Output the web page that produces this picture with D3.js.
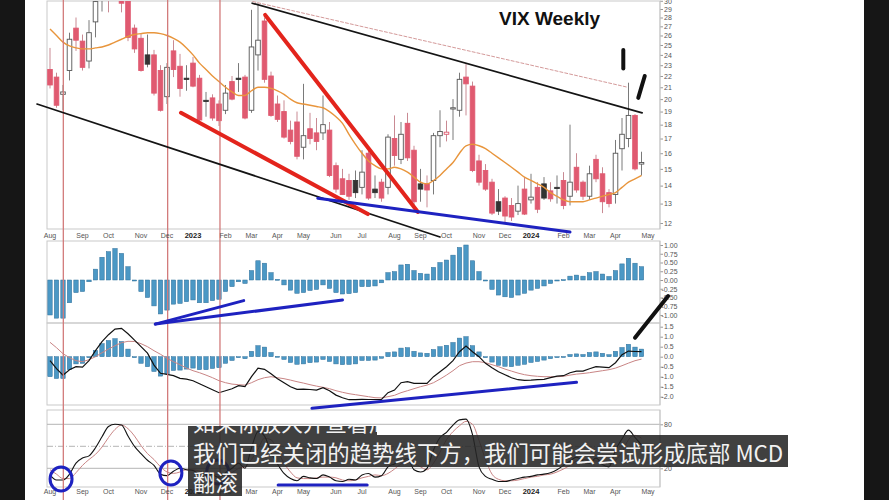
<!DOCTYPE html>
<html><head><meta charset="utf-8">
<script src="https://cdn.jsdelivr.net/npm/d3@7"></script>
<style>body{margin:0;background:#fff;}svg{display:block;}</style>
</head><body>
<svg id="c" width="889" height="500"></svg>
<script>
// ---------------- DATA ----------------
const priorClose = 21.3;
const opens = [22.6,21.9,20.4,22.5,26.8,25.4,23.4,27.5,30.5,30.4, 32.4,32.5,30.6,26.8,25.7,24.0,24.0,22.5,20.2,24.4, 22.9,21.8,23.2,21.8,19.9,20.1,19.6,19.1,21.5,21.8, 21.9,19.1,24.0,27.6,22.0,19.6,19.0,17.6,18.2,16.4, 17.7,17.4,17.4,17.6,15.2,14.4,14.3,14.3,13.9,16.0, 13.8,14.2,13.9,17.0,15.6,18.1,16.2,14.1,14.1,14.3, 17.2,17.3,19.2,19.1,21.9,21.1,15.5,14.9,14.2,13.1, 13.3,12.9,12.6,13.8,13.2,13.9,14.1,13.7,13.9,14.3, 13.4,15.1,14.2,13.4,15.6,14.7,13.6,13.5,16.3,17.0, 18.7,15.3];
const highs = [24.7,22.3,21.2,26.3,28.0,26.1,27.7,30.4,34.9,33.6, 34.0,33.0,31.5,27.2,26.2,26.1,24.5,23.0,23.2,25.5, 24.1,23.0,23.8,22.1,20.6,20.4,19.9,21.2,22.0,23.2, 22.1,28.9,29.7,28.0,22.4,20.3,19.9,18.3,19.0,21.3, 18.9,18.5,20.3,18.2,15.4,15.0,14.7,14.9,16.2,16.3, 14.6,14.4,17.3,18.7,18.2,18.9,16.5,15.0,14.6,17.4, 19.1,18.3,20.0,22.3,23.1,21.5,15.9,15.3,14.4,13.8, 13.4,13.3,14.0,14.5,14.7,14.2,14.5,14.2,14.6,14.8, 18.0,16.0,14.3,15.2,15.9,15.1,13.8,16.9,18.5,21.4, 18.8,16.1];
const lows = [20.9,19.3,19.1,21.6,24.4,22.5,22.7,25.8,28.7,28.6, 30.2,28.6,25.4,24.2,22.4,22.8,20.3,19.0,19.6,21.9, 20.2,20.7,21.0,18.0,18.6,18.3,17.9,18.8,19.9,20.6, 18.4,18.9,22.5,21.4,18.6,18.2,17.0,16.6,15.6,15.6, 16.6,16.2,16.9,14.5,13.6,13.5,13.2,13.3,13.5,13.2, 13.3,13.1,13.5,15.2,15.3,15.5,12.9,13.1,12.8,13.5, 16.4,16.8,16.9,18.6,18.7,14.8,14.0,13.7,12.4,12.4, 12.0,12.1,12.4,12.4,13.0,12.5,13.2,13.1,13.0,12.7, 12.9,13.6,13.2,13.2,14.2,12.5,12.8,13.0,14.9,16.4, 14.9,14.6];
const closes = [21.2,19.5,20.6,25.6,25.5,22.8,26.3,29.9,31.6,31.4, 32.0,29.7,25.8,24.6,22.5,23.1,20.5,19.1,22.8,22.6, 20.9,21.7,21.1,18.35,19.85,18.5,18.3,20.5,20.0,21.7, 18.5,24.8,25.5,21.7,18.7,18.4,17.1,16.8,15.8,17.2, 17.0,16.8,18.0,14.6,13.8,13.5,13.4,13.6,14.8,13.3, 13.6,13.3,17.1,15.85,17.3,15.7,13.1,13.8,13.75,17.2, 17.5,17.45,19.3,21.7,21.3,14.9,14.2,13.8,12.5,12.6, 12.35,12.3,13.0,12.45,13.35,12.7,13.3,13.26,13.85,12.9, 14.2,13.75,13.4,14.7,14.4,13.1,13.0,16.0,17.3,18.7, 15.0,15.4];
const movingAvg = [26.7,26.0,25.3,24.9,24.7,24.6,24.6,24.7,24.8,25.0, 25.3,25.6,25.9,26.1,26.2,26.3,26.3,26.2,26.0,25.7, 25.3,24.7,24.0,23.2,22.6,22.0,21.5,21.0,20.6,20.3, 20.3,20.7,21.0,21.0,20.9,20.7,20.4,20.0,19.7,19.6, 19.5,19.4,19.3,19.0,18.6,18.1,17.3,16.6,16.0,15.5, 15.2,15.0,15.0,15.1,15.0,14.8,14.5,14.2,14.1,14.3, 14.6,15.0,15.4,16.0,16.5,16.6,16.5,16.3,16.0,15.7, 15.4,15.1,14.8,14.5,14.3,14.1,13.9,13.6,13.4,13.2, 13.1,13.1,13.1,13.2,13.3,13.4,13.5,13.6,13.9,14.2, 14.4,14.6];
const histogram = [-1.0,-1.09,-1.09,-0.65,-0.36,-0.33,-0.05,0.31,0.65,0.81, 0.90,0.76,0.38,0.0,-0.33,-0.5,-0.74,-0.97,-0.86,-0.69, -0.67,-0.62,-0.57,-0.65,-0.65,-0.59,-0.55,-0.33,-0.19,-0.05, -0.1,0.27,0.55,0.48,0.21,0.02,-0.14,-0.29,-0.38,-0.36, -0.3,-0.27,-0.14,-0.24,-0.36,-0.40,-0.39,-0.36,-0.19,-0.19, -0.17,-0.08,0.21,0.24,0.43,0.45,0.27,0.19,0.17,0.36, 0.50,0.57,0.71,0.93,1.0,0.55,0.24,0.0,-0.27,-0.43, -0.48,-0.5,-0.43,-0.38,-0.29,-0.24,-0.17,-0.1,-0.02,0.01, 0.11,0.14,0.11,0.21,0.24,0.17,0.1,0.27,0.46,0.62, 0.48,0.38];
const macdLine = [-0.2,-0.6,-0.92,-0.65,-0.5,-0.52,-0.2,0.3,0.75,1.1, 1.38,1.42,1.15,0.83,0.5,0.18,-0.42,-0.83,-0.88,-0.95, -1.08,-1.12,-1.2,-1.35,-1.5,-1.65,-1.8,-1.7,-1.6,-1.45, -1.5,-1.0,-0.57,-0.63,-0.85,-1.1,-1.3,-1.5,-1.63,-1.62, -1.64,-1.67,-1.55,-1.7,-1.92,-2.05,-2.15,-2.15,-2.13,-2.14, -2.14,-2.13,-1.8,-1.67,-1.3,-1.25,-1.33,-1.33,-1.33,-1.0, -0.75,-0.5,-0.2,0.25,0.53,0.25,0.0,-0.33,-0.55,-0.75, -0.9,-1.05,-1.15,-1.18,-1.17,-1.15,-1.13,-1.05,-0.97,-0.95, -0.8,-0.72,-0.72,-0.6,-0.5,-0.52,-0.55,-0.3,0.1,0.28, 0.26,0.25];
const signalLine = [0.72,0.45,0.15,-0.05,-0.2,-0.25,-0.15,0.0,0.2,0.38, 0.55,0.7,0.77,0.76,0.65,0.5,0.3,0.12,-0.08,-0.25, -0.4,-0.57,-0.7,-0.8,-0.92,-1.05,-1.2,-1.3,-1.37,-1.4, -1.42,-1.3,-1.15,-1.05,-1.0,-1.05,-1.1,-1.17,-1.25,-1.32, -1.4,-1.47,-1.53,-1.6,-1.7,-1.78,-1.85,-1.9,-1.95,-2.0, -2.05,-2.06,-2.0,-1.93,-1.8,-1.7,-1.6,-1.5,-1.42,-1.3, -1.12,-0.92,-0.7,-0.45,-0.32,-0.25,-0.25,-0.3,-0.4,-0.5, -0.62,-0.72,-0.82,-0.9,-0.95,-0.98,-1.0,-1.0,-1.0,-0.98, -0.92,-0.87,-0.84,-0.8,-0.75,-0.7,-0.65,-0.57,-0.45,-0.32, -0.2,-0.12];
const stochK = [11,4,4,12,27,34,37,48,63,77, 80,79,64,50,40,31,24,12,10,16, 20,18,17,12,13,11,8,14,20,27, 20,48,70,64,42,26,13,6,3,9, 7,6,11,8,3,2,5,4,11,13, 8,10,22,26,31,33,18,15,20,45, 62,69,79,86,87,66,22,9,5,2, 2,4,6,8,9,11,12,14,18,24, 30,35,30,27,34,25,22,45,60,72, 62,52];
const stochD = [18,12,6,6,14,24,32,39,49,62, 73,79,74,64,51,40,32,22,15,13, 15,18,18,16,14,12,11,11,14,20, 22,32,46,61,59,44,27,15,7,6, 6,7,8,8,7,4,3,4,7,9, 11,10,13,19,26,30,27,22,18,27, 42,59,70,78,84,80,58,32,12,5, 3,3,4,6,8,9,11,12,15,19, 24,30,32,31,30,29,27,31,42,59, 65,61];

const monthLabels = ["Aug","Sep","Oct","Nov","Dec","2023","Feb","Mar","Apr","May","Jun","Jul","Aug","Sep","Oct","Nov","Dec","2024","Feb","Mar","Apr","May"];
const priceTicks = [12,13,14,15,16,17,18,19,20,21,22,23,24,25,26,27,28,29,30];
const histTicks = [1.00,0.75,0.50,0.25,0.00,-0.25,-0.50,-0.75,-1.00];
const macdTicks = [1.5,1.0,0.5,0.0,-0.5,-1.0,-1.5,-2.0];
const stochTicks = [80,20];

// cycle lines (week index) and hand-drawn annotations in data units
const cycleWeeks = [2.05, 18.1, 26.15];
const annotations = [
  {p:"p1", a:[31.1,29.7], b:[91.1,18.9], c:"#141414", w:1.7},
  {p:"p1", a:[31.2,29.9], b:[88.9,21.0], c:"#d49a9a", w:1, dash:"3,2"},
  {p:"p1", a:[-2.0,19.6], b:[60.0,11.33], c:"#141414", w:1.7},
  {p:"p1", a:[33.1,28.3], b:[56.6,12.56], c:"#e3241c", w:4},
  {p:"p1", a:[20.15,18.9], b:[48.9,12.45], c:"#e3241c", w:4},
  {p:"p1", a:[41.2,13.29], b:[80.0,11.56], c:"#1e22c0", w:3},
  {p:"p1", a:[88.2,24.5], b:[88.2,22.7], c:"#111", w:4},
  {p:"p1", a:[91.5,22.0], b:[90.5,20.1], c:"#111", w:4},
  {p:"p2", a:[16.2,-1.26], b:[29.8,-0.59], c:"#1e22c0", w:3},
  {p:"p2", a:[16.2,-1.26], b:[45.0,-0.57], c:"#1e22c0", w:3},
  {p:"p3", a:[40.3,-2.58], b:[81.0,-1.28], c:"#1e22c0", w:3},
  {p:"p3", a:[90.0,0.95], b:[95.1,3.03], c:"#111", w:4},
  {p:"p4", a:[35.1,-2.8], b:[48.8,-2.8], c:"#1e22c0", w:3}
];
const circles = [[1.7,5.4],[18.6,13.6],[25.8,15]];

// ---------------- LAYOUT ----------------
const svg = d3.select("#c");
svg.append("rect").attr("width",889).attr("height",500).attr("fill","#fff");
svg.append("rect").attr("width",25).attr("height",500).attr("fill","#161616");
svg.append("rect").attr("x",864).attr("width",25).attr("height",500).attr("fill","#161616");

const L = 47, R = 660;
const P = {p1:[1,229], p2:[241,323], p3:[323,405], p4:[410,487]};
const x = d3.scaleLinear().domain([0,91]).range([50,641.5]);
const y = {
  p1: d3.scaleLog().domain([12,29]).range([223,9]),
  p2: d3.scaleLinear().domain([-1,1]).range([315,245]),
  p3: d3.scaleLinear().domain([-2,1.5]).range([396.7,326.7]),
  p4: d3.scaleLinear().domain([20,80]).range([468.3,424.3])
};

const defs = svg.append("defs");
Object.entries(P).forEach(([k,[t,b]])=>{
  defs.append("clipPath").attr("id","clip-"+k).append("rect")
    .attr("x",L).attr("y",t).attr("width",R-L).attr("height",b-t);
});
Object.values(P).forEach(([t,b])=>{
  svg.append("rect").attr("x",L).attr("y",t).attr("width",R-L).attr("height",b-t)
    .attr("fill","none").attr("stroke","#c9c9c9").attr("stroke-width",1);
});

const font = "'Liberation Sans', Arial, sans-serif";

// ---- panel 4 reference lines
const g4 = svg.append("g").attr("clip-path","url(#clip-p4)");
[80,20].forEach(v=>g4.append("line").attr("x1",L).attr("x2",R).attr("y1",y.p4(v)).attr("y2",y.p4(v)).attr("stroke","#b5b5b5"));
g4.append("line").attr("x1",L).attr("x2",R).attr("y1",y.p4(50)).attr("y2",y.p4(50)).attr("stroke","#b5b5b5").attr("stroke-dasharray","6,2,1,2");

// ---- candles
const g1 = svg.append("g").attr("clip-path","url(#clip-p1)");
const RED = "#e05a70";
const candles = closes.map((c,i)=>({i,o:opens[i],h:highs[i],l:lows[i],c,
  red: c < (i>0 ? closes[i-1] : priorClose), filled: c < opens[i]}));
g1.selectAll("line.wick").data(candles).join("line").attr("class","wick")
  .attr("x1",d=>x(d.i)).attr("x2",d=>x(d.i))
  .attr("y1",d=>y.p1(d.h)).attr("y2",d=>y.p1(d.l))
  .attr("stroke",d=>d.red?"#c98a93":"#7a7a7a").attr("stroke-width",1);
g1.selectAll("rect.body").data(candles).join("rect").attr("class","body")
  .attr("x",d=>x(d.i)-2.3).attr("width",4.6)
  .attr("y",d=>y.p1(Math.max(d.o,d.c)))
  .attr("height",d=>Math.max(1.2, Math.abs(y.p1(d.o)-y.p1(d.c))))
  .attr("fill",d=>d.filled ? (d.red?RED:"#333") : "#fff")
  .attr("stroke",d=>d.filled ? (d.red?RED:"#333") : (d.red?RED:"#555"))
  .attr("stroke-width",0.9);
g1.append("path").datum(movingAvg)
  .attr("d", d3.line().x((d,i)=>x(i)).y(d=>y.p1(d)).curve(d3.curveMonotoneX))
  .attr("fill","none").attr("stroke","#e8953c").attr("stroke-width",1.4);

// ---- histograms (panel 2 & 3)
["p2","p3"].forEach(k=>{
  const g = svg.append("g").attr("clip-path",`url(#clip-${k})`);
  g.selectAll("rect").data(histogram).join("rect")
    .attr("x",(d,i)=>x(i)-2.2).attr("width",4.4)
    .attr("y",d=>Math.min(y[k](0),y[k](d)))
    .attr("height",d=>Math.max(1, Math.abs(y[k](d)-y[k](0))))
    .attr("fill","#4b98c5").attr("stroke","#2f6f99").attr("stroke-width",0.5);
});
const g3 = svg.append("g").attr("clip-path","url(#clip-p3)");
const ln3 = d3.line().x((d,i)=>x(i)).y(d=>y.p3(d));
g3.append("path").datum(signalLine).attr("d",ln3).attr("fill","none").attr("stroke","#c98585").attr("stroke-width",1);
g3.append("path").datum(macdLine).attr("d",ln3).attr("fill","none").attr("stroke","#111").attr("stroke-width",1.2);

// ---- stochastic panel
const ln4 = d3.line().x((d,i)=>x(i)).y(d=>y.p4(d)).curve(d3.curveMonotoneX);
g4.append("path").datum(stochD).attr("d",ln4).attr("fill","none").attr("stroke","#c98585").attr("stroke-width",1);
g4.append("path").datum(stochK).attr("d",ln4).attr("fill","none").attr("stroke","#111").attr("stroke-width",1.1);

// ---- cycle lines
cycleWeeks.forEach(w=>{
  svg.append("line").attr("x1",x(w)).attr("x2",x(w)).attr("y1",0).attr("y2",500)
    .attr("stroke","#d27b7b").attr("stroke-width",1.3);
});

// ---- right axes
function rightAxis(k, ticks, fmt){
  const g = svg.append("g").attr("transform",`translate(${R},0)`)
    .call(d3.axisRight(y[k]).tickValues(ticks).tickSize(3).tickPadding(1).tickFormat(fmt));
  g.select(".domain").remove();
  g.selectAll("line").attr("stroke","#999");
  g.selectAll("text").attr("font-family",font).attr("font-size",7).attr("fill","#555")
    .attr("dx",d=>d<0?-2.5:0);
  svg.append("line").attr("x1",R).attr("x2",R).attr("y1",P[k][0]).attr("y2",P[k][1]).attr("stroke","#c9c9c9");
}
const hy = s=>s.replace("−","-");
rightAxis("p1", priceTicks, d=>String(d));
rightAxis("p2", histTicks, d=>hy(d3.format(".2f")(d)));
rightAxis("p3", macdTicks, d=>hy(d3.format(".1f")(d)));
rightAxis("p4", stochTicks, d=>String(d));

// ---- date axes
const weekDates = d3.timeMonday.range(new Date(2022,7,1), new Date(2024,4,7));
const monthIdx = weekDates.map((d,i)=>i).filter(i=> i===0 || weekDates[i].getMonth()!==weekDates[i-1].getMonth());
[236, 492].forEach(ty=>{
  const g = svg.append("g");
  g.selectAll("text").data(monthIdx).join("text")
    .attr("x",i=>x(i)).attr("y",ty).attr("text-anchor","middle").attr("dominant-baseline","middle")
    .attr("font-family",font)
    .attr("font-size",(i,j)=>/^\d+$/.test(monthLabels[j])?7.5:7)
    .attr("font-weight",(i,j)=>/^\d+$/.test(monthLabels[j])?"bold":"normal")
    .attr("fill",(i,j)=>/^\d+$/.test(monthLabels[j])?"#222":"#555")
    .text((i,j)=>monthLabels[j]);
});

// ---- title
svg.append("text").attr("x",499).attr("y",25).attr("font-family",font).attr("font-weight","bold")
  .attr("font-size",19).attr("fill","#111").text("VIX Weekly");

// ---- annotations
annotations.forEach(a=>{
  const yy = y[a.p];
  const l = svg.append("line").attr("x1",x(a.a[0])).attr("y1",yy(a.a[1])).attr("x2",x(a.b[0])).attr("y2",yy(a.b[1]))
    .attr("stroke",a.c).attr("stroke-width",a.w).attr("stroke-linecap","round");
  if(a.dash) l.attr("stroke-dasharray",a.dash);
});
circles.forEach(([w,v])=>{
  svg.append("ellipse").attr("cx",x(w)).attr("cy",y.p4(v)).attr("rx",11).attr("ry",12)
    .attr("fill","none").attr("stroke","#1e22c0").attr("stroke-width",3);
});

// ---- subtitles
const sub = svg.append("g");
defs.append("clipPath").attr("id","clip-sub0").append("rect").attr("x",188).attr("y",426).attr("width",189).attr("height",9);
sub.append("rect").attr("x",188).attr("y",426).attr("width",189).attr("height",9).attr("fill","rgba(38,38,38,0.88)");
sub.append("text").attr("clip-path","url(#clip-sub0)").attr("x",193).attr("y",431)
  .attr("font-family","'Noto Sans CJK SC'").attr("font-size",22).attr("fill","#f2f2f2").text("如果你放大并查看周期");
sub.append("rect").attr("x",188).attr("y",435).attr("width",600).attr("height",32).attr("fill","rgba(38,38,38,0.88)");
sub.append("rect").attr("x",188).attr("y",467).attr("width",54).attr("height",29).attr("fill","rgba(38,38,38,0.88)");
sub.append("text").attr("x",193).attr("y",452).attr("dominant-baseline","central")
  .attr("font-family","'Noto Sans CJK SC'").attr("font-size",22.4).attr("fill","#f2f2f2")
  .text("我们已经关闭的趋势线下方，我们可能会尝试形成底部 MCD");
sub.append("text").attr("x",193).attr("y",481).attr("dominant-baseline","central")
  .attr("font-family","'Noto Sans CJK SC'").attr("font-size",22.4).attr("fill","#f2f2f2")
  .text("翻滚");
</script>
</body></html>
